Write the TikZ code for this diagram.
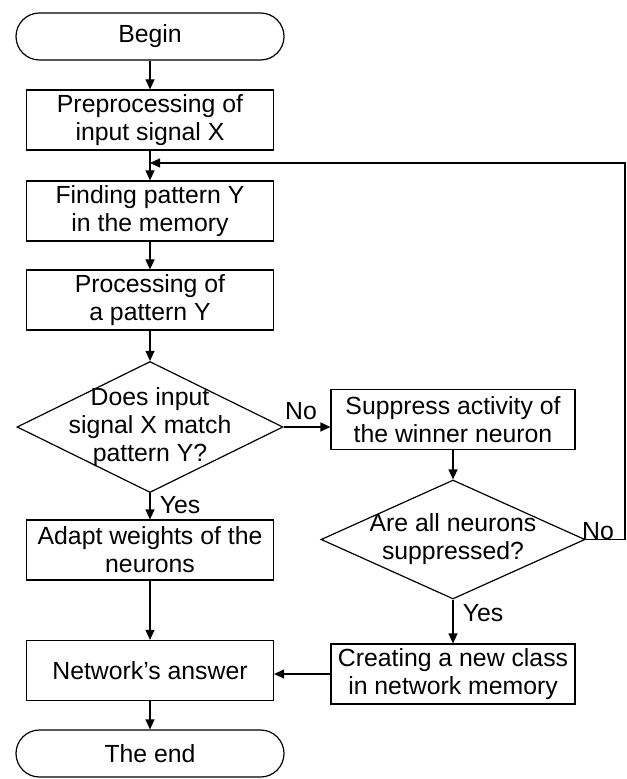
\documentclass[tikz,border=0pt]{standalone}
\usepackage{fontspec}
\setmainfont{Liberation Sans}
\usepackage{tikz}
\usetikzlibrary{arrows.meta,positioning,shapes.geometric}

\begin{document}
\begin{tikzpicture}[x=0.5pt,y=-0.5pt,
  every node/.style={font=\fontsize{12.4}{14}\selectfont,align=center},
  stepbox/.style={rectangle,draw,line width=0.6pt,minimum width=123.5pt,minimum height=30pt,inner sep=1pt},
  term/.style={stepbox,rounded corners=11.75pt,minimum width=134pt,minimum height=23.5pt},
  cond/.style={diamond,draw,line width=0.6pt,inner xsep=-22pt,inner ysep=-14pt,minimum width=133pt,minimum height=65.5pt},
  lbl/.style={inner sep=0pt},
  arr/.style={-{Triangle[length=5pt,width=4.5pt]},line width=0.6pt}
]
\useasboundingbox (0,0) rectangle (626,779);
\node[term] (b) at (150,36.5) {Begin};
\node[stepbox] (p) at (150,120) {Preprocessing of\\input signal X};
\node[stepbox] (f) at (150,211) {Finding pattern Y\\in the memory};
\node[stepbox] (q) at (150,300) {Processing of\\a pattern Y};
\node[cond] (d1) at (150,427) {Does input\\signal X match\\pattern Y?};
\node[stepbox] (a) at (150,550) {Adapt weights of the\\neurons};
\node[stepbox] (n) at (150,670.5) {Network’s answer};
\node[term] (e) at (150,753.5) {The end};
\node[stepbox,minimum width=122pt] (s) at (453,419.5) {Suppress activity of\\the winner neuron};
\node[cond,minimum width=132pt,minimum height=59.5pt] (d2) at (453,539.5) {Are all neurons\\suppressed?};
\node[stepbox,minimum width=122pt] (c) at (453,674) {Creating a new class\\in network memory};
\node[lbl] (no1) at (301,411) {No};
\node[lbl] (yes1) at (180,505) {Yes};
\node[lbl] (no2) at (598,531) {No};
\node[lbl] (yes2) at (483,613) {Yes};
\foreach \u/\v in {b/p,p/f,f/q,q/d1,d1/a,a/n,n/e,s/d2,d2/c} \draw[arr] (\u)--(\v);
\draw[arr] (d1.east) -- (d1.east -| s.west);
\draw[arr] (c.west) -- (c.west -| n.east);
% loop back to the memory search
\coordinate (r1) at (625,539.5);
\coordinate (r2) at (625,163);
\draw[arr] (d2.east) -- (r1) -- (r2) -- (p.south |- r2);
\end{tikzpicture}
\end{document}
